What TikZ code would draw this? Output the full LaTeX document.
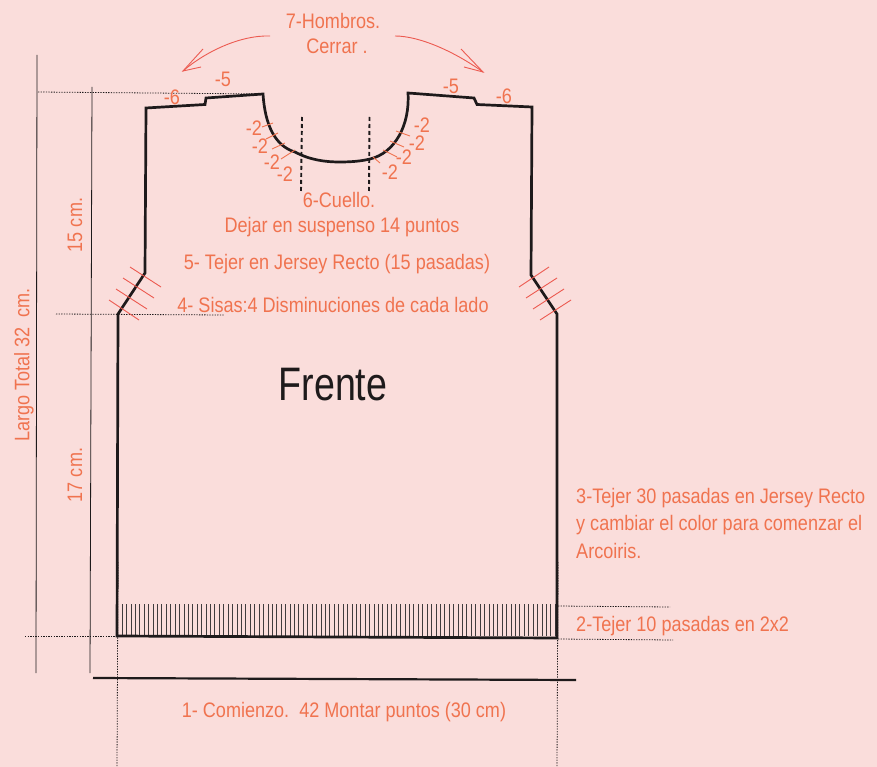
\documentclass[tikz,border=0pt]{standalone}
\usepackage{fontspec}
\setmainfont[FakeStretch=0.86]{Liberation Sans}
\newfontfamily\titlefont[FakeStretch=0.8]{Liberation Sans}
\definecolor{bgpink}{HTML}{FADDDB}
\definecolor{lbl}{HTML}{F0734F}
\definecolor{redl}{HTML}{EC5A50}
\definecolor{ink}{HTML}{1E1A1B}
\tikzset{
 x=1pt,y=-1pt,
 lab/.style={text=lbl,font=\fontsize{21}{25}\selectfont,inner sep=0pt},
 hlab/.style={lab,yshift=-1.5pt},
 leftlab/.style={hlab,anchor=west},
 vlab/.style={lab,rotate=90},
 outline/.style={draw=ink,line width=2.7pt,line join=miter},
 guide/.style={draw=ink,line width=0.8pt},
 base/.style={draw=ink,line width=2.2pt},
 dots/.style={draw=ink,line width=0.8pt,dash pattern=on 1.3pt off 1.3pt},
 cuts/.style={draw=ink,line width=1.9pt,dash pattern=on 4pt off 3pt},
 tick/.style={draw=redl,line width=0.9pt},
 ticko/.style={draw=lbl,line width=0.9pt},
 arrowl/.style={draw=redl,line width=0.9pt},
 rib/.style={draw=ink!85,line width=0.65pt},
}
\begin{document}
\begin{tikzpicture}
\useasboundingbox[fill=bgpink] (0,0) rectangle (877,767);
% guides
\draw[guide] (37,55) -- (36,673);
\draw[guide] (92,87) -- (90,673);
\draw[dots] (38,92) -- (263,94);
\draw[dots] (56,314) -- (224,315);
\draw[dots] (25,636) -- (117,636);
\draw[dots] (118,562) -- (117,767);
\draw[dots] (558,562) -- (557,767);
\draw[dots] (558,606) -- (670,607);
\draw[dots] (558,639) -- (673,640);
\draw[base] (93,678) -- (576,680);
% ribbing
\foreach \i in {0,...,98} {\draw[rib] ({122+\i*4.42},604) -- ({122+\i*4.42},636);}
% outline
\draw[outline] (117,636) -- (118,314) -- (145,273) -- (146,108) -- (205,104.5) -- (206,98) -- (263,94)
 .. controls (265,125) and (275,146) .. (295,152)
 .. controls (310,160) and (325,162) .. (340,162)
 .. controls (352,162) and (362,161) .. (370,159)
 .. controls (395,153) and (410,125) .. (408,93)
 -- (474,98) -- (477,104.5) -- (532,107) -- (531,275) -- (557,314) -- (557,638) -- cycle;
% neck cuts
\draw[cuts] (302,117) -- (301,191);
\draw[cuts] (369.5,117) -- (369,191);
% armhole ticks
\draw[tick] (130,267) -- (161,287);
\draw[tick] (123,278) -- (154,298);
\draw[tick] (116,289) -- (147,309);
\draw[tick] (109,300) -- (139,320);
\draw[tick] (549,267) -- (519,287);
\draw[tick] (557,278) -- (526,298);
\draw[tick] (564,289) -- (533,309);
\draw[tick] (571,300) -- (540,320);
% neck ticks
\draw[ticko] (262,127) -- (273,123);
\draw[ticko] (266,139) -- (278,133);
\draw[ticko] (272,149) -- (285,143);
\draw[ticko] (281,159) -- (295,150);
\draw[ticko] (396,131) -- (410,136);
\draw[ticko] (390,141) -- (404,147);
\draw[ticko] (383,150) -- (397,157);
\draw[ticko] (373,157) -- (380,163);
% shoulder arrows
\draw[arrowl] (270,36) .. controls (240,35) and (205,52) .. (183,71);
\draw[arrowl] (203,49) -- (183,71) -- (201,67);
\draw[arrowl] (395,36) .. controls (420,36) and (455,52) .. (483,72);
\draw[arrowl] (461,49) -- (483,72) -- (464,67);
% labels
\node[hlab] (hombros) at (333,19) {7-Hombros.};
\node[hlab] (cerrar) at (337,45) {Cerrar .};
\node[hlab] (sl5) at (223,78) {-5};
\node[hlab] (sl6) at (172,96) {-6};
\node[hlab] (sr5) at (451,85) {-5};
\node[hlab] (sr6) at (504,95) {-6};
\node[hlab] (nl1) at (254,127) {-2};
\node[hlab] (nl2) at (260,145) {-2};
\node[hlab] (nl3) at (272,161) {-2};
\node[hlab] (nl4) at (285,173) {-2};
\node[hlab] (nr1) at (422,124) {-2};
\node[hlab] (nr2) at (417,142) {-2};
\node[hlab] (nr3) at (404,156) {-2};
\node[hlab] (nr4) at (390,171) {-2};
\node[hlab] (cuello) at (339,198) {6-Cuello.};
\node[hlab] (dejar) at (342,226) {Dejar en suspenso 14 puntos};
\node[hlab] (tejer5) at (337,263) {5- Tejer en Jersey Recto (15 pasadas)};
\node[hlab] (sisas) at (333,303) {4- Sisas:4 Disminuciones de cada lado};
\node[inner sep=0pt,text=ink,font=\titlefont\fontsize{47}{54}\selectfont] (frente) at (333,385) {Frente};
\node[leftlab] (t3a) at (576,497) {3-Tejer 30 pasadas en Jersey Recto};
\node[leftlab] (t3b) at (576,524) {y cambiar el color para comenzar el};
\node[leftlab] (t3c) at (576,549) {Arcoiris.};
\node[leftlab] (t2) at (576,625) {2-Tejer 10 pasadas en 2x2};
\node[hlab] (t1) at (344,711) {1- Comienzo.\ \ 42 Montar puntos (30 cm)};
\node[vlab] (v15) at (75,225) {15 cm.};
\node[vlab] (v17) at (75,475) {17 cm.};
\node[vlab] (vtot) at (24,365) {Largo Total 32\ \ cm.};
\end{tikzpicture}
\end{document}
